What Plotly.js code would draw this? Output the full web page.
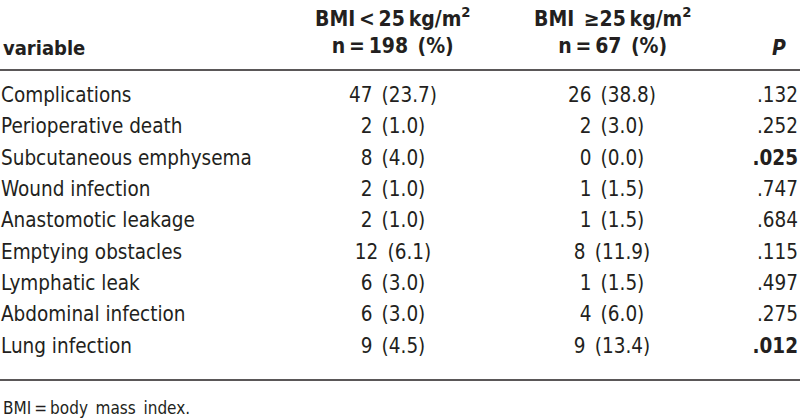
<!DOCTYPE html>
<html><head><meta charset="utf-8">
<script src="https://cdn.plot.ly/plotly-3.0.1.min.js"></script>
<style>html,body{margin:0;padding:0;background:#fff}#chart{width:800px;height:419px}</style>
</head><body><div id="chart"></div>
<script>
const variables = ["Complications","Perioperative death","Subcutaneous emphysema","Wound infection","Anastomotic leakage","Emptying obstacles","Lymphatic leak","Abdominal infection","Lung infection"];
const lowN = [47,2,8,2,2,12,6,6,9];
const lowPct = [23.7,1.0,4.0,1.0,1.0,6.1,3.0,3.0,4.5];
const highN = [26,2,0,1,1,8,1,4,9];
const highPct = [38.8,3.0,0.0,1.5,1.5,11.9,1.5,6.0,13.4];
const pValues = [0.132,0.252,0.025,0.747,0.684,0.115,0.497,0.275,0.012];
const headers = ["variable","<b>BMI\u2009<\u200925\u2009kg/m<sup>2</sup></b><br><b>n\u2009=\u2009198\u2002(%)</b>","<b>BMI\u2002\u226525\u2009kg/m<sup>2</sup></b><br><b>n\u2009=\u200967\u2002(%)</b>","<b><i>P</i></b>"];
const footnote = "BMI\u2009=\u2009body\u2002mass\u2002index.";

const FONT = "'DejaVu Sans Condensed', 'Liberation Sans Narrow', sans-serif";
const COLOR = "#231f20";
const rowTop = 97, rowStep = 31.3;
const ys = variables.map((_, i) => rowTop + i * rowStep);
const col = {v: 1, low: 393, high: 612, p: 798};
const fmtP = p => { const s = p.toFixed(3).replace(/^0/, ''); return p < 0.05 ? '<b>' + s + '</b>' : s; };

const base = {type: 'scatter', mode: 'text', y: ys, hoverinfo: 'skip', cliponaxis: false, showlegend: false,
  textfont: {family: FONT, size: 20.5, color: COLOR}};
const traces = [
  Object.assign({}, base, {x: ys.map(() => col.v), text: variables, textposition: 'middle right'}),
  Object.assign({}, base, {x: ys.map(() => col.low), text: lowN.map((n, i) => n + '\u2002(' + lowPct[i].toFixed(1) + ')'), textposition: 'middle center'}),
  Object.assign({}, base, {x: ys.map(() => col.high), text: highN.map((n, i) => n + '\u2002(' + highPct[i].toFixed(1) + ')'), textposition: 'middle center'}),
  Object.assign({}, base, {x: ys.map(() => col.p), text: pValues.map(fmtP), textposition: 'middle left'})
];

const hdrFont = {family: FONT, size: 21, color: COLOR};
const annotations = [
  {x: col.v, y: 48, xref: 'x', yref: 'y', text: '<b>' + headers[0] + '</b>', showarrow: false, xanchor: 'left', yanchor: 'middle', font: {family: FONT, size: 20, color: COLOR}},
  {x: col.low, y: 30, xref: 'x', yref: 'y', text: headers[1], showarrow: false, xanchor: 'center', yanchor: 'middle', font: hdrFont, align: 'center'},
  {x: col.high, y: 30, xref: 'x', yref: 'y', text: headers[2], showarrow: false, xanchor: 'center', yanchor: 'middle', font: hdrFont, align: 'center'},
  {x: 779, y: 48, xref: 'x', yref: 'y', text: headers[3], showarrow: false, xanchor: 'center', yanchor: 'middle', font: hdrFont},
  {x: col.v, y: 408, xref: 'x', yref: 'y', text: footnote, showarrow: false, xanchor: 'left', yanchor: 'middle', font: {family: FONT, size: 17, color: COLOR}}
];
const shapes = [
  {type: 'line', xref: 'x', yref: 'y', x0: 0, x1: 800, y0: 70, y1: 70, line: {color: COLOR, width: 1.6}},
  {type: 'line', xref: 'x', yref: 'y', x0: 0, x1: 800, y0: 380, y1: 380, line: {color: COLOR, width: 1.6}}
];
const layout = {
  width: 800, height: 419, margin: {l: 0, r: 0, t: 0, b: 0},
  paper_bgcolor: '#fff', plot_bgcolor: '#fff',
  xaxis: {range: [0, 800], visible: false, fixedrange: true},
  yaxis: {range: [419, 0], visible: false, fixedrange: true},
  annotations: annotations, shapes: shapes
};
Plotly.newPlot('chart', traces, layout, {staticPlot: true, displayModeBar: false});
</script></body></html>
